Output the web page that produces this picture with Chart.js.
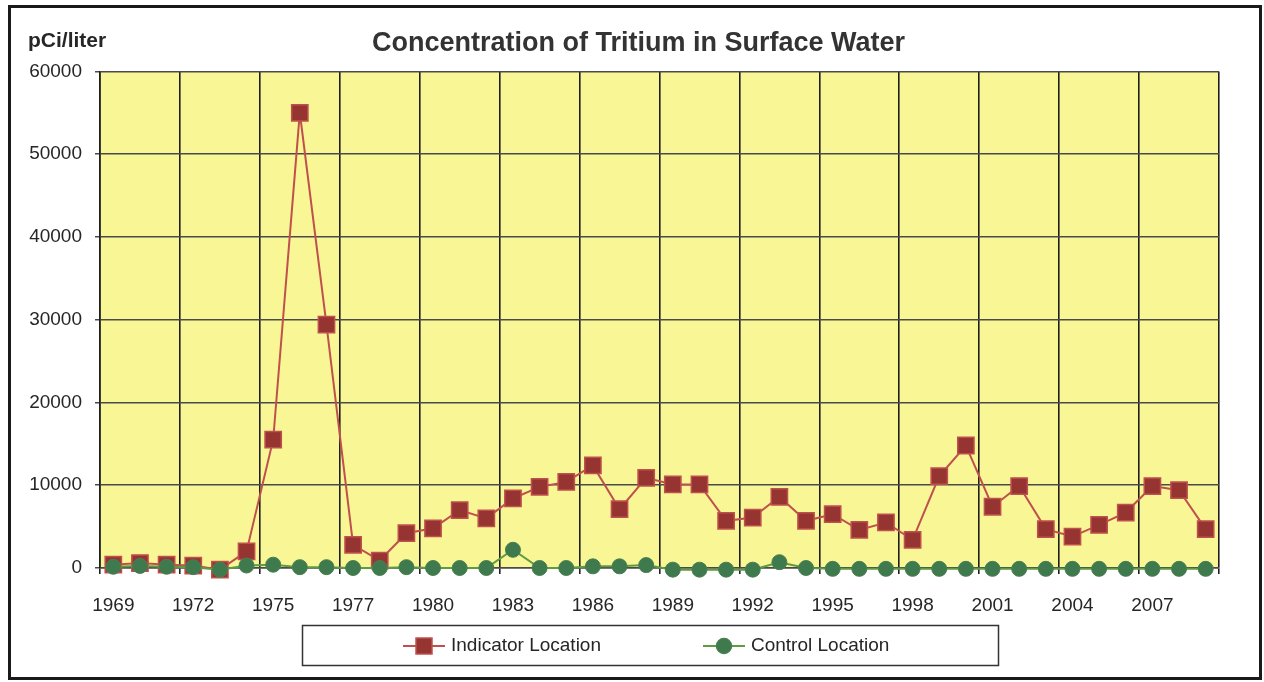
<!DOCTYPE html>
<html>
<head>
<meta charset="utf-8">
<script src="https://cdn.jsdelivr.net/npm/chart.js"></script>
<style>
  html, body { margin: 0; padding: 0; background: #fff; }
  canvas { display: block; }
</style>
</head>
<body>
<canvas id="myChart" width="1264" height="682"></canvas>
<script>
// one entry per sample; 1976 was sampled twice
let years = ['1969','1970','1971','1972','1973','1974','1975','1976','1976','1977',
  '1978','1979','1980','1981','1982','1983','1984','1985','1986','1987','1988',
  '1989','1990','1991','1992','1993','1994','1995','1996','1997','1998','1999',
  '2000','2001','2002','2003','2004','2005','2006','2007','2008','2009'];

let indicator = [400,600,400,300,-200,2000,15500,55000,29400,2800,900,4200,4800,7000,
  6000,8400,9800,10400,12400,7100,10900,10100,10100,5700,6100,8600,5700,6500,4600,
  5500,3400,11100,14800,7400,9900,4700,3800,5200,6700,9900,9400,4700];

let control = [150,250,150,100,-200,300,400,100,100,0,0,100,0,0,0,2200,0,0,200,200,
  350,-200,-200,-200,-200,700,0,-100,-100,-100,-100,-100,-100,-100,-100,-100,-100,
  -100,-100,-100,-100,-100];

let seriesNames = ['Indicator Location', 'Control Location'];
let yTicks = [0, 60000, 10000]; // min, max, step

const FONT = '"Liberation Sans", Arial, sans-serif';
const TEXT = '#262626';

// yellow plot area + outer frame + unit label + boxed legend
const decor = {
  id: 'decor',
  afterLayout(chart) {
    // title is centred on the frame, not on the padded layout box
    const t = chart.titleBlock;
    t.left = 58;
    t.width = t.right - t.left;
  },
  beforeDraw(chart) {
    const {ctx, chartArea: a} = chart;
    ctx.save();
    ctx.fillStyle = '#F8F695';
    ctx.fillRect(a.left, a.top, a.right - a.left, a.bottom - a.top);
    ctx.restore();
  },
  afterDraw(chart) {
    const ctx = chart.ctx;
    ctx.save();
    ctx.strokeStyle = '#1a1a1a';
    ctx.lineWidth = 3;
    ctx.strokeRect(9.5, 6.5, 1251, 672);

    ctx.fillStyle = TEXT;
    ctx.font = 'bold 21px ' + FONT;
    ctx.textBaseline = 'alphabetic';
    ctx.textAlign = 'left';
    ctx.fillText('pCi/liter', 28, 47);

    // legend
    ctx.strokeStyle = '#333';
    ctx.lineWidth = 1.5;
    ctx.strokeRect(302.5, 625.5, 696, 40);
    ctx.font = '19px ' + FONT;
    ctx.textBaseline = 'middle';
    const cy = 646;
    let x = 403;
    chart.data.datasets.forEach((ds, i) => {
      ctx.strokeStyle = ds.borderColor;
      ctx.lineWidth = 2;
      ctx.beginPath();
      ctx.moveTo(x, cy);
      ctx.lineTo(x + 42, cy);
      ctx.stroke();
      ctx.fillStyle = ds.pointBackgroundColor;
      ctx.strokeStyle = ds.pointBorderColor;
      ctx.lineWidth = 1.5;
      ctx.beginPath();
      if (ds.pointStyle === 'rect') {
        ctx.rect(x + 13, cy - 8, 16, 16);
      } else {
        ctx.arc(x + 21, cy, 7.5, 0, Math.PI * 2);
      }
      ctx.fill();
      ctx.stroke();
      ctx.fillStyle = TEXT;
      ctx.fillText(ds.label, x + 48, cy);
      x += 48 + ctx.measureText(ds.label).width + 102;
    });
    ctx.restore();
  }
};

const vLine = c => (c.type !== 'tick' || c.index % 3 === 0) ? '#1f1f1f' : 'rgba(0,0,0,0)';

new Chart(document.getElementById('myChart').getContext('2d'), {
  type: 'line',
  data: {
    labels: years,
    datasets: [{
      label: seriesNames[0],
      data: indicator,
      order: 1,
      borderColor: '#C0504D',
      borderWidth: 2,
      pointStyle: 'rect',
      pointRadius: 11.5,
      pointBackgroundColor: '#953431',
      pointBorderColor: '#C0504D',
      pointBorderWidth: 1.5,
      tension: 0,
      clip: false
    }, {
      label: seriesNames[1],
      data: control,
      order: 0,
      borderColor: '#5E9C40',
      borderWidth: 2,
      pointStyle: 'circle',
      pointRadius: 7.5,
      pointBackgroundColor: '#3F7A4F',
      pointBorderColor: '#4A7E4E',
      pointBorderWidth: 1,
      tension: 0,
      clip: false
    }]
  },
  options: {
    responsive: false,
    animation: false,
    events: [],
    layout: { padding: { left: 20, right: 45, top: 8, bottom: 64 } },
    plugins: {
      legend: { display: false },
      tooltip: { enabled: false },
      title: {
        display: true,
        text: 'Concentration of Tritium in Surface Water',
        color: '#333',
        font: { family: FONT, size: 27, weight: 'bold', lineHeight: 1.2 },
        padding: { top: 19, bottom: 12 }
      }
    },
    scales: {
      x: {
        offset: true,
        grid: { offset: true, color: vLine, lineWidth: 1.6, tickLength: 6 },
        border: { display: true, color: '#4a4a4a', width: 1.5 },
        ticks: {
          autoSkip: false,
          maxRotation: 0,
          padding: 20,
          color: TEXT,
          font: { family: FONT, size: 19 },
          callback: function (v, i) { return i % 3 === 0 ? this.getLabelForValue(v) : ''; }
        },
        afterFit(scale) { scale.height = 50; }
      },
      y: {
        min: yTicks[0],
        max: yTicks[1],
        grid: { color: '#4a4a4a', lineWidth: 1.5, tickLength: 5 },
        border: { display: true, color: '#1f1f1f', width: 1.6 },
        ticks: {
          stepSize: yTicks[2],
          padding: 13,
          color: TEXT,
          font: { family: FONT, size: 19 },
          callback: v => String(v)
        },
        afterFit(scale) { scale.width = 80; }
      }
    }
  },
  plugins: [decor]
});
</script>
</body>
</html>
